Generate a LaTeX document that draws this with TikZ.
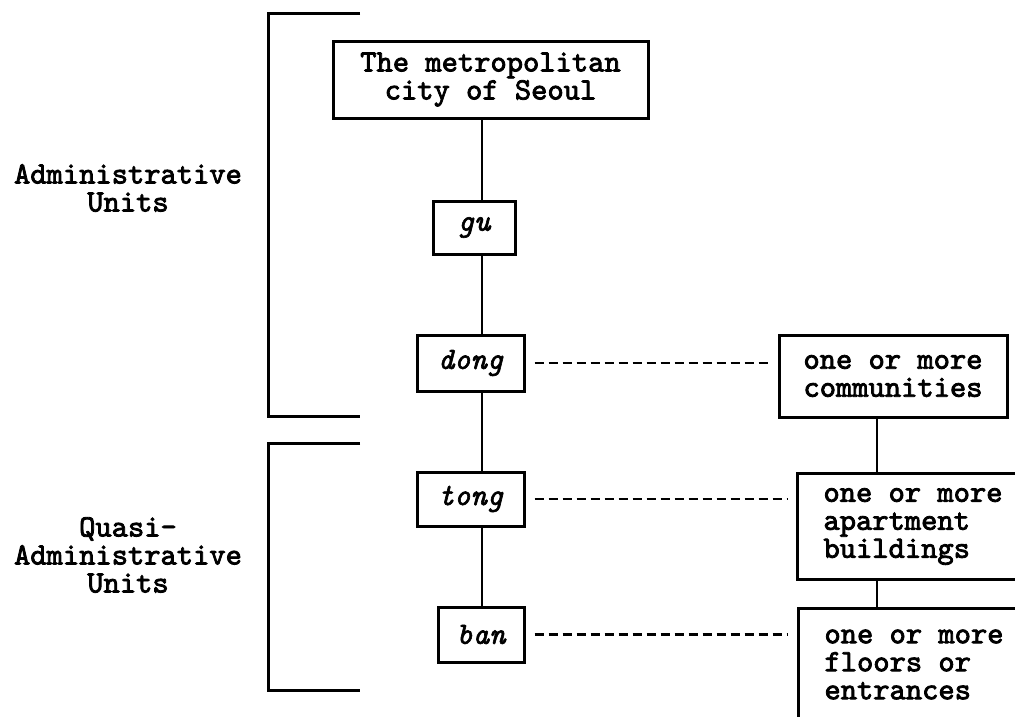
\documentclass[tikz,border=0pt]{standalone}
\usepackage{fontspec}
\newfontfamily\courfont{lmmono10-regular.otf}[ItalicFont=lmmono10-italic.otf,
  BoldFont=lmmono10-regular.otf, BoldItalicFont=lmmono10-italic.otf,
  BoldFeatures={FakeBold=2.6}, BoldItalicFeatures={FakeBold=2}]
\newcommand\unitfont{\fontsize{31}{28}\selectfont\courfont}
\newcommand\fixspace{\spaceskip=0pt\relax}
\tikzset{
  unitbox/.style={draw, line width=3pt, align=center, font=\unitfont\bfseries, inner sep=0pt},
  leftbox/.style={unitbox, anchor=north west, align=left, text width=200pt, inner xsep=26pt,
    execute at begin node=\fixspace},
  levelbox/.style={draw, line width=3pt, font=\unitfont\bfseries\itshape, inner sep=0pt},
  sidetext/.style={align=center, font=\unitfont\bfseries},
  dashline/.style={line width=2.3pt, dash pattern=on 9pt off 5pt, shorten >=9pt, shorten <=9pt},
  link/.style={line width=2.6pt},
  bracket/.style={line width=3pt}
}
\begin{document}
\begin{tikzpicture}[x=1pt,y=-1pt]
\useasboundingbox (0,0) rectangle (1015,716);
\clip (0,0) rectangle (1015,716);
\node[unitbox, minimum width=315pt, minimum height=77pt] (seoul) at (490.5,79.5) {The metropolitan\\city of Seoul};
\node[levelbox, minimum width=82pt, minimum height=53pt] (gu) at (474,227.5) {gu};
\node[levelbox, minimum width=107pt, minimum height=56pt] (dong) at (470.5,363) {dong};
\node[levelbox, minimum width=107pt, minimum height=54pt] (tong) at (470.5,499) {tong};
\node[levelbox, minimum width=86pt, minimum height=55pt] (ban) at (481,634.5) {ban};
\node[unitbox, minimum width=228pt, minimum height=82pt] (comm) at (893,376) {one or more\\communities};
\node[leftbox, minimum height=106pt] (apt) at (796,472) {one or more\\apartment\\buildings};
\node[leftbox, minimum height=112pt] (floors) at (797,607) {one or more\\floors or\\entrances};
\node[sidetext] (admin) at (128,188) {Administrative\\Units};
\node[sidetext] (quasi) at (128,555) {Quasi-\\Administrative\\Units};
\draw[bracket] (360,13) -- (268,13) -- (268,416) -- (360,416);
\draw[bracket] (360,443) -- (268,443) -- (268,690) -- (360,690);
\coordinate (spine) at (482,0);
\coordinate (rspine) at (877,0);
\foreach \a/\b in {seoul/gu,gu/dong,dong/tong,tong/ban}
  \draw[link] (\a.south -| spine) -- (\b.north -| spine);
\foreach \a/\b in {comm/apt,apt/floors}
  \draw[link] (\a.south -| rspine) -- (\b.north -| rspine);
\foreach \a/\b in {dong/comm,tong/apt,ban/floors}
  \draw[dashline] (\a.east) -- (\a.east -| \b.west);
\end{tikzpicture}
\end{document}
